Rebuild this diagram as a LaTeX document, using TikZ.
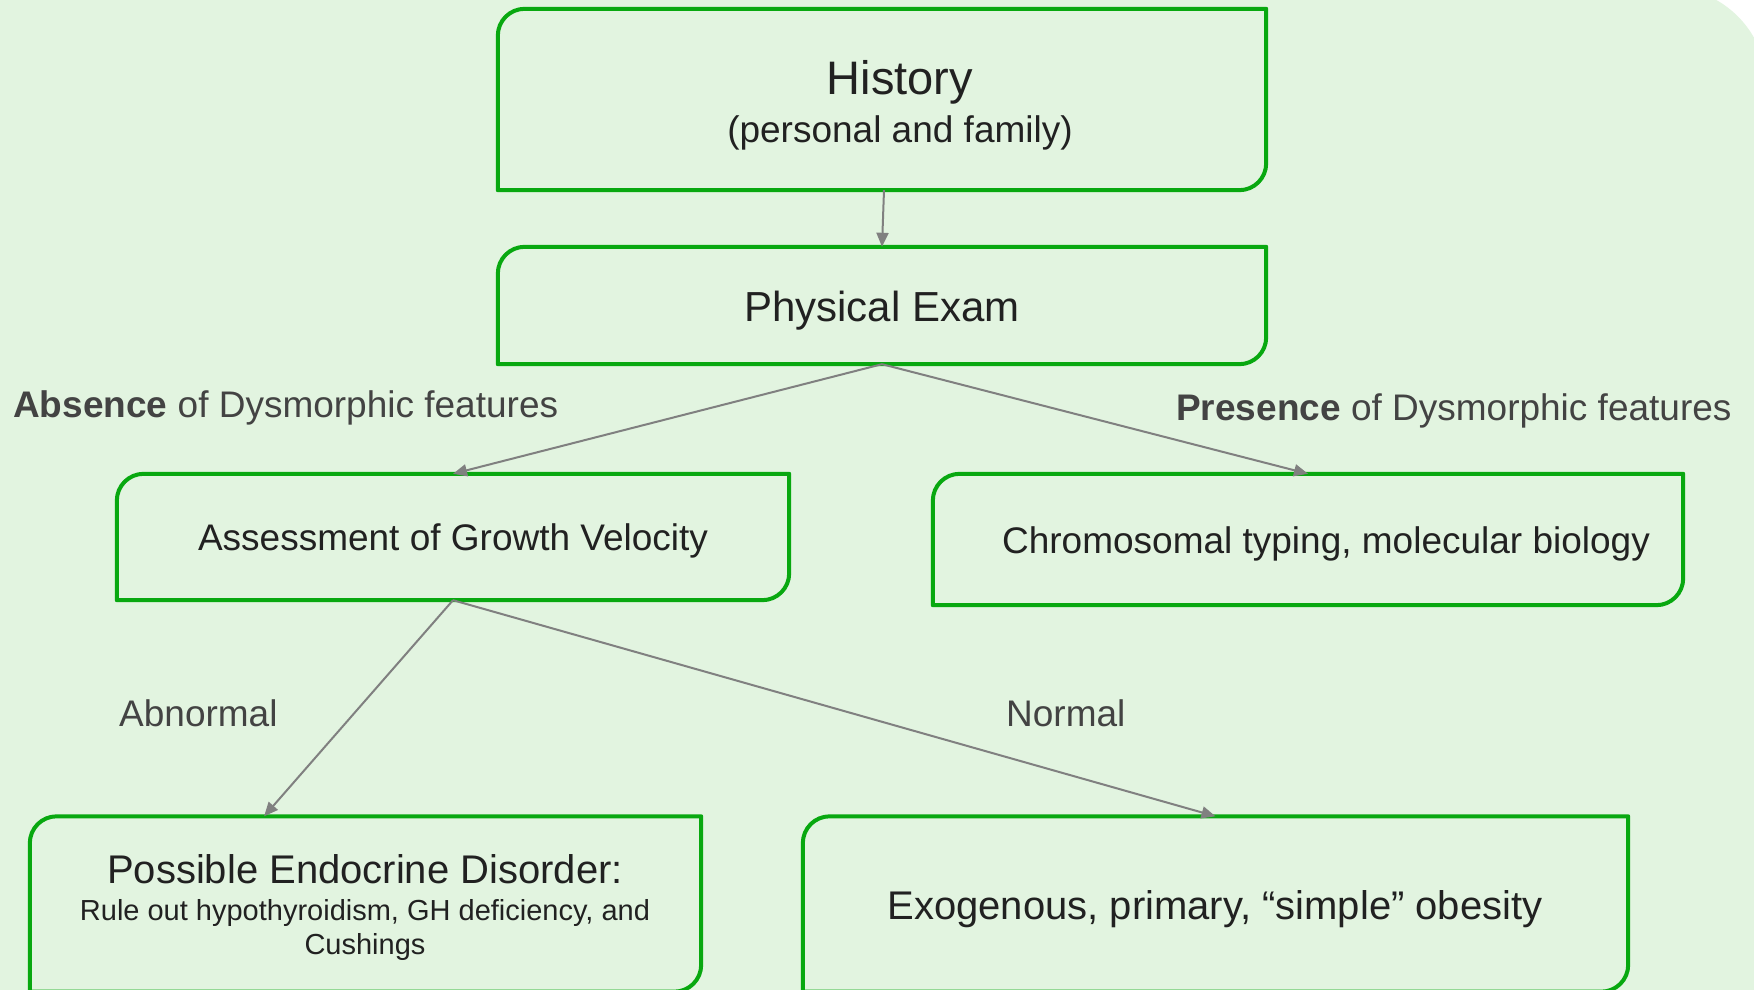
\documentclass[tikz,border=0pt]{standalone}
\usepackage{fontspec}
\setmainfont{Liberation Sans}
\usetikzlibrary{arrows.meta,calc}

\definecolor{bggreen}{RGB}{226,244,224}
\definecolor{boxgreen}{RGB}{8,168,16}
\definecolor{arrowgray}{RGB}{128,128,128}
\definecolor{boxink}{HTML}{212121}
\definecolor{labelink}{HTML}{434343}

% Outline of a flow box: rounded top-left and bottom-right corners only
\newcommand{\flowoutline}[1]{%
  \draw[outline] (#1.south west) -- ([yshift=-27pt]#1.north west)
    .. controls ([yshift=-12pt]#1.north west) and ([xshift=12pt]#1.north west) ..
    ([xshift=27pt]#1.north west) -- (#1.north east) -- ([yshift=27pt]#1.south east)
    .. controls ([yshift=12pt]#1.south east) and ([xshift=-12pt]#1.south east) ..
    ([xshift=-27pt]#1.south east) -- cycle;}

\tikzset{
  flowbox/.style={rectangle, inner sep=0pt},
  outline/.style={draw=boxgreen, line width=4pt, line join=round},
  boxtext/.style={inner sep=0pt, anchor=base, text=boxink, align=center},
  link/.style={draw=arrowgray, line width=2pt, -{Triangle[length=14pt,width=12pt]}},
  edgelabel/.style={inner sep=0pt, anchor=base west, text=labelink,
                    font=\fontsize{37}{44}\selectfont},
}

\begin{document}
\begin{tikzpicture}[x=1pt, y=-1pt]
  \useasboundingbox (0,0) rectangle (1754,990);
  \fill[white] (0,0) rectangle (1754,990);
  \fill[bggreen, rounded corners=100pt] (-300,1300) -- (-300,-13) -- (1767,-13) -- (1767,1300) -- cycle;

  % boxes
  \node[flowbox, minimum width=768pt, minimum height=181pt] (hist)   at (882,99.5)   {};
  \node[flowbox, minimum width=768pt, minimum height=117pt] (exam)   at (882,305.5)  {};
  \node[flowbox, minimum width=672pt, minimum height=126pt] (growth) at (453,537)    {};
  \node[flowbox, minimum width=750pt, minimum height=131pt] (chrom)  at (1308,539.5) {};
  \node[flowbox, minimum width=671pt, minimum height=175pt] (endo)   at (365.5,904)  {};
  \node[flowbox, minimum width=825pt, minimum height=175pt] (exo)    at (1215.5,904) {};

  \foreach \b in {hist,exam,growth,chrom,endo,exo} {\flowoutline{\b}}

  % box texts
  \node[boxtext, font=\fontsize{47}{56}\selectfont] (histtitle) at (900,94)  {History};
  \node[boxtext, font=\fontsize{37}{44}\selectfont] (histsub)   at (900,142) {(personal and family)};
  \node[boxtext, font=\fontsize{42}{50}\selectfont] (examtext)  at (882,321) {Physical Exam};
  \node[boxtext, font=\fontsize{37}{44}\selectfont] (growthtext) at (453,550) {Assessment of Growth Velocity};
  \node[boxtext, font=\fontsize{37}{44}\selectfont] (chromtext) at (1326,553) {Chromosomal typing, molecular biology};
  \node[boxtext, font=\fontsize{40}{48}\selectfont] (endotitle) at (365,883) {Possible Endocrine Disorder:};
  \node[boxtext, font=\fontsize{29}{34}\selectfont] (endosub)   at (365,954) {Rule out hypothyroidism, GH deficiency, and\\Cushings};
  \node[boxtext, font=\fontsize{40}{48}\selectfont] (exotext)   at (1215,919) {Exogenous, primary, “simple” obesity};

  % branch labels
  \node[edgelabel] (absent)   at (13,417)   {\textbf{Absence} of Dysmorphic features};
  \node[edgelabel] (present)  at (1176,420) {\textbf{Presence} of Dysmorphic features};
  \node[edgelabel] (abnormal) at (119,726)  {Abnormal};
  \node[edgelabel] (normal)   at (1006,726) {Normal};

  % connectors
  \coordinate (endoin) at ($(endo.north west)!0.349!(endo.north east)$);
  \draw[link] ([xshift=2pt]hist.south) -- (exam.north);
  \draw[link] (exam.south) -- (growth.north);
  \draw[link] (exam.south) -- (chrom.north);
  \draw[link] (growth.south) -- (endoin);
  \draw[link] (growth.south) -- (exo.north);
\end{tikzpicture}
\end{document}
